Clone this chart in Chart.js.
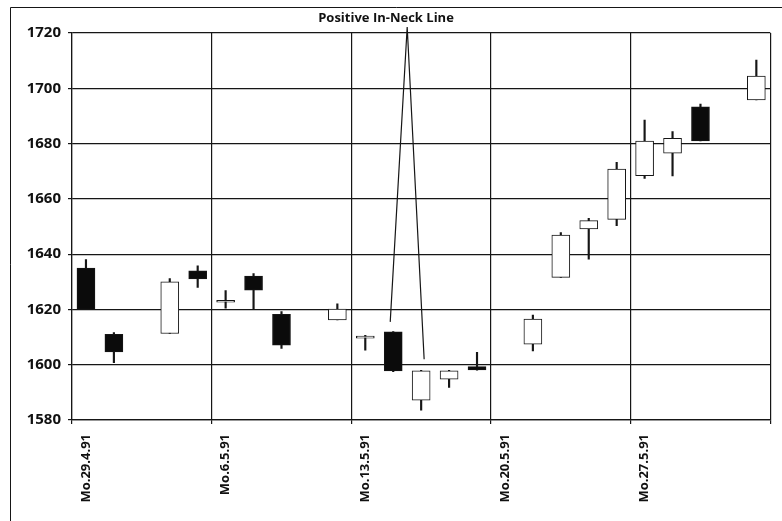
<!DOCTYPE html>
<html>
<head>
<meta charset="UTF-8">
<script src="https://cdn.jsdelivr.net/npm/chart.js@4"></script>
<style>
html, body { margin: 0; padding: 0; background: #fff; }
canvas { display: block; }
</style>
</head>
<body>
<canvas id="c" width="782" height="521"></canvas>
<script>
// trading days, 5 per week; holidays are null (1.5, Himmelfahrt 9.5, Pfingstmontag 20.5, Fronleichnam 30.5)
const days = [
  'Mo.29.4.91', 'Di.30.4.91', 'Mi.1.5.91', 'Do.2.5.91', 'Fr.3.5.91',
  'Mo.6.5.91', 'Di.7.5.91', 'Mi.8.5.91', 'Do.9.5.91', 'Fr.10.5.91',
  'Mo.13.5.91', 'Di.14.5.91', 'Mi.15.5.91', 'Do.16.5.91', 'Fr.17.5.91',
  'Mo.20.5.91', 'Di.21.5.91', 'Mi.22.5.91', 'Do.23.5.91', 'Fr.24.5.91',
  'Mo.27.5.91', 'Di.28.5.91', 'Mi.29.5.91', 'Do.30.5.91', 'Fr.31.5.91'
];
const opens  = [1635, 1611, null, 1611.3, 1634, 1622.6, 1632.1, 1618.2, null, 1616.2, 1609.6, 1611.9, 1587.2, 1594.8, 1599.3, null, 1607.4, 1631.6, 1649.1, 1652.6, 1668.4, 1676.5, 1693.3, null, 1695.8];
const highs  = [1638, 1611.6, null, 1631.2, 1635.8, 1626.8, 1633, 1619.2, null, 1622, 1610.6, 1612, 1598, 1598, 1604.5, null, 1618, 1647.8, 1653, 1673.2, 1688.5, 1684.3, 1694.3, null, 1710.2];
const lows   = [1620, 1600.7, null, 1611.3, 1628, 1620.5, 1620, 1605.9, null, 1616.2, 1605.3, 1597.5, 1583.6, 1591.8, 1598, null, 1605, 1631.6, 1638.2, 1650.3, 1667.4, 1668.3, 1681, null, 1695.8];
const closes = [1620, 1604.6, null, 1630, 1631, 1623, 1627, 1607.1, null, 1620.1, 1610, 1597.8, 1597.8, 1597.8, 1598.1, null, 1616.5, 1646.9, 1652.1, 1670.8, 1680.9, 1681.9, 1681, null, 1704.4];
const yTicks = [1580, 1600, 1620, 1640, 1660, 1680, 1700, 1720];

// annotation: the two candles of the pattern and where the pointer lines end
const patternIdx = [11, 12];
const pointerVals = [1615.5, 1602];
const patternTitle = 'Positive In-Neck Line';

const ink = '#161616';
const bodies = opens.map((o, i) => o == null ? null : [o, closes[i]]);
const wicks = lows.map((l, i) => l == null ? null : [l, highs[i]]);
const bodyFill = opens.map((o, i) => (o != null && closes[i] < o) ? '#0b0b0b' : '#ffffff');

const annot = {
  id: 'annot',
  afterDraw(chart) {
    const c = chart.ctx;
    const xs = chart.scales.x, ys = chart.scales.y;
    c.save();
    // outer frame
    c.strokeStyle = ink;
    c.lineWidth = 1;
    c.beginPath();
    c.moveTo(10.5, 530);
    c.lineTo(10.5, 7.5);
    c.lineTo(790, 7.5);
    c.stroke();
    // title
    c.fillStyle = '#111';
    c.font = 'bold 13px "Open Sans"';
    c.textAlign = 'center';
    c.textBaseline = 'middle';
    c.fillText(patternTitle, 386, 18);
    // pointer lines
    const ax = (xs.getPixelForValue(patternIdx[0]) + xs.getPixelForValue(patternIdx[1])) / 2;
    const ay = chart.chartArea.top - 6;
    c.lineWidth = 1.2;
    c.beginPath();
    patternIdx.forEach((idx, k) => {
      c.moveTo(ax, ay);
      c.lineTo(xs.getPixelForValue(idx) - 3 + 6 * k, ys.getPixelForValue(pointerVals[k]));
    });
    c.stroke();
    c.restore();
  }
};

new Chart(document.getElementById('c'), {
  type: 'bar',
  data: {
    labels: days,
    datasets: [
      {
        label: 'body', data: bodies, backgroundColor: bodyFill, borderColor: ink,
        borderWidth: 1, borderSkipped: false, barThickness: 18, minBarLength: 2,
        grouped: false, order: 0
      },
      {
        label: 'wick', data: wicks, backgroundColor: ink, borderWidth: 0,
        barThickness: 1.5, grouped: false, order: 1
      }
    ]
  },
  options: {
    responsive: false,
    animation: false,
    layout: { padding: { top: 33, right: 3, left: 0, bottom: 0 } },
    plugins: { legend: { display: false }, tooltip: { enabled: false } },
    scales: {
      x: {
        offset: true,
        grid: {
          offset: true,
          color: c => (c.index === undefined || c.index % 5 === 0) ? ink : 'rgba(0,0,0,0)',
          lineWidth: 1.2,
          tickLength: 4
        },
        border: { display: true, color: ink, width: 1.2 },
        ticks: {
          autoSkip: false, minRotation: 90, maxRotation: 90, padding: 10,
          color: '#111', font: { family: 'Open Sans', size: 13, weight: 'bold' },
          callback: (v, i) => i % 5 === 0 ? days[i] : ''
        },
        afterFit: s => { s.height = 101; }
      },
      y: {
        min: yTicks[0], max: yTicks[yTicks.length - 1],
        afterBuildTicks: s => { s.ticks = yTicks.map(v => ({ value: v })); },
        grid: { color: ink, lineWidth: 1.2, tickLength: 4 },
        border: { color: ink, width: 1.2 },
        ticks: {
          padding: 7, color: '#111', font: { family: 'Open Sans', size: 15, weight: 'bold' },
          callback: v => String(v)
        },
        afterFit: s => { s.width = 72; }
      }
    }
  },
  plugins: [annot]
});
</script>
</body>
</html>
